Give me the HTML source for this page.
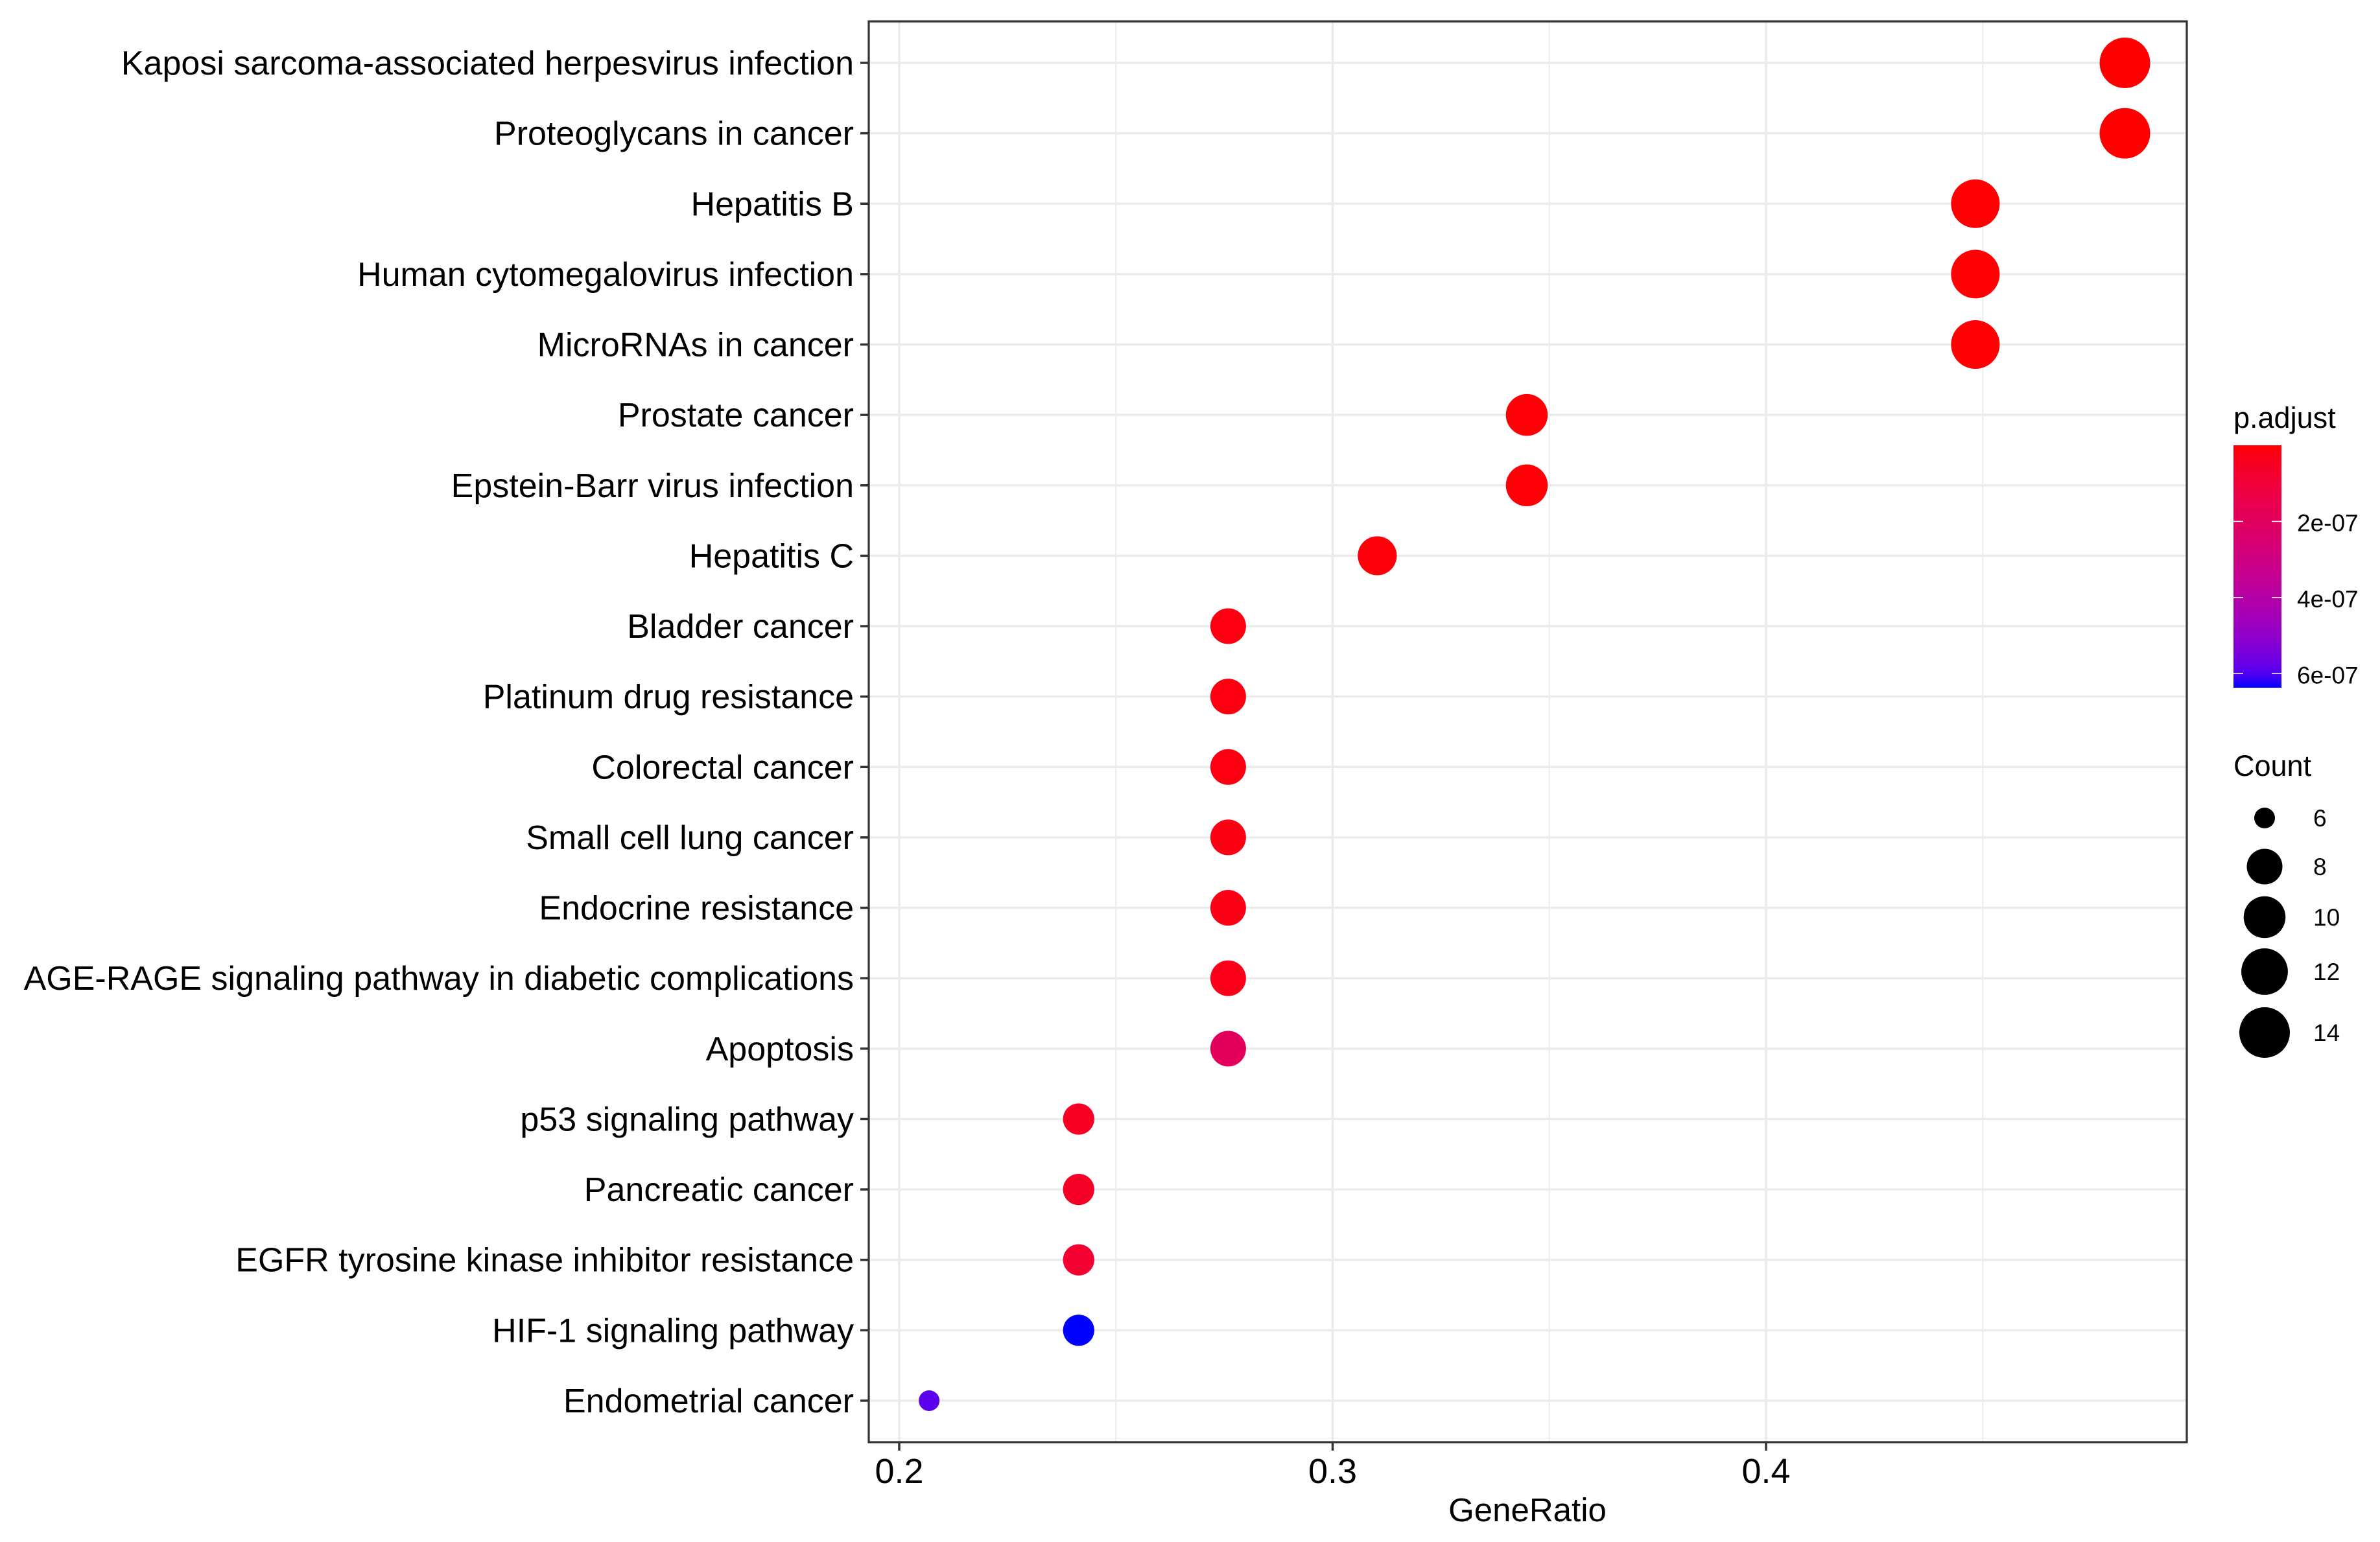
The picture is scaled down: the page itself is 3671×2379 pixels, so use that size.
<!DOCTYPE html>
<html><head><meta charset="utf-8"><title>KEGG enrichment dot plot</title>
<style>
html,body{margin:0;padding:0;background:#fff;}
svg{display:block;font-family:"Liberation Sans",Arial,sans-serif;}
</style></head>
<body>
<svg id="chart" width="3671" height="2379" viewBox="0 0 3671 2379" xmlns="http://www.w3.org/2000/svg">
<defs>
<linearGradient id="cbar" x1="0" y1="0" x2="0" y2="1">
</linearGradient>
</defs>
<g id="grid"></g>
<g id="points"></g>
<rect x="1340" y="33" width="2033" height="2192" fill="none" stroke="#333" stroke-width="3.2"/>
<g id="yaxis"></g>
<g id="xaxis"></g>
<text x="2356" y="2347" font-size="51" text-anchor="middle" fill="#000">GeneRatio</text>
<g id="legend-color">
<text x="3445" y="660" font-size="45" fill="#000">p.adjust</text>
<rect x="3445" y="687" width="74" height="374" fill="url(#cbar)"/>
</g>
<g id="legend-size">
<text x="3445" y="1197" font-size="45" fill="#000">Count</text>
</g>
</svg>
<script>
const categories = ["Kaposi sarcoma-associated herpesvirus infection","Proteoglycans in cancer","Hepatitis B","Human cytomegalovirus infection","MicroRNAs in cancer","Prostate cancer","Epstein-Barr virus infection","Hepatitis C","Bladder cancer","Platinum drug resistance","Colorectal cancer","Small cell lung cancer","Endocrine resistance","AGE-RAGE signaling pathway in diabetic complications","Apoptosis","p53 signaling pathway","Pancreatic cancer","EGFR tyrosine kinase inhibitor resistance","HIF-1 signaling pathway","Endometrial cancer"];
const geneRatio = [0.4828,0.4828,0.4483,0.4483,0.4483,0.3448,0.3448,0.3103,0.2759,0.2759,0.2759,0.2759,0.2759,0.2759,0.2759,0.2414,0.2414,0.2414,0.2414,0.2069];
const counts = [14,14,13,13,13,10,10,9,8,8,8,8,8,8,8,7,7,7,7,6];
const pAdjust = [1e-9,1e-9,3e-9,3e-9,3e-9,5e-9,6e-9,1e-8,2e-8,2e-8,2e-8,2.2e-8,2.5e-8,3e-8,1.9e-7,5e-8,6e-8,8e-8,6.37e-7,5.9e-7];
const xTicks = [0.2,0.3,0.4];
const xTickLabels = ["0.2","0.3","0.4"];
const xMinor = [0.25,0.35,0.45];
const pTicks = [2e-7,4e-7,6e-7];
const pTickLabels = ["2e-07","4e-07","6e-07"];
const countBreaks = [6,8,10,12,14];

const NS="http://www.w3.org/2000/svg";
function mk(tag,attrs,parent){const e=document.createElementNS(NS,tag);for(const k in attrs)e.setAttribute(k,attrs[k]);parent.appendChild(e);return e;}
const X0=1340,X1=3373,Y0=33,Y1=2225;
function xs(v){return 1387+(v-0.2)*6685;}
function ys(i){return 97+i*108.63;}
const pMin=0, pMax=6.37e-7;
const cMin=6, cMax=14, rMin=16, rMax=39;
function rs(c){return rMin+(rMax-rMin)*Math.sqrt((c-cMin)/(cMax-cMin));}
function s2l(c){c/=255;return c<=0.04045?c/12.92:Math.pow((c+0.055)/1.055,2.4);}
function l2s(c){c=c<=0.0031308?12.92*c:1.055*Math.pow(c,1/2.4)-0.055;return Math.max(0,Math.min(255,Math.round(c*255)));}
function toLab(r,g,b){r=s2l(r);g=s2l(g);b=s2l(b);
 let x=(0.4124*r+0.3576*g+0.1805*b)/0.95047,y=(0.2126*r+0.7152*g+0.0722*b),z=(0.0193*r+0.1192*g+0.9505*b)/1.08883;
 const f=t=>t>0.008856?Math.cbrt(t):7.787*t+16/116;
 return [116*f(y)-16,500*(f(x)-f(y)),200*(f(y)-f(z))];}
function fromLab(L,a,bb){let fy=(L+16)/116,fx=fy+a/500,fz=fy-bb/200;
 const fi=t=>t*t*t>0.008856?t*t*t:(t-16/116)/7.787;
 let x=fi(fx)*0.95047,y=fi(fy),z=fi(fz)*1.08883;
 let r=3.2406*x-1.5372*y-0.4986*z,g=-0.9689*x+1.8758*y+0.0415*z,b=0.0557*x-0.2040*y+1.0570*z;
 return "rgb("+l2s(r)+","+l2s(g)+","+l2s(b)+")";}
const LR=toLab(255,0,0),LB=toLab(0,0,255);
function colAt(t){return fromLab(LR[0]+(LB[0]-LR[0])*t,LR[1]+(LB[1]-LR[1])*t,LR[2]+(LB[2]-LR[2])*t);}
function cs(p){return colAt(Math.max(0,Math.min(1,(p-pMin)/(pMax-pMin))));}

const grid=document.getElementById('grid');
xMinor.forEach(v=>{const l=mk('line',{x1:xs(v),x2:xs(v),y1:Y0,y2:Y1,stroke:'#ebebeb','stroke-width':1.8},grid);

});
xTicks.forEach(v=>{const l=mk('line',{x1:xs(v),x2:xs(v),y1:Y0,y2:Y1,stroke:'#ebebeb','stroke-width':3.5},grid);

});
categories.forEach((c,i)=>{const l=mk('line',{x1:X0,x2:X1,y1:ys(i),y2:ys(i),stroke:'#ebebeb','stroke-width':3.5},grid);

});

const pts=document.getElementById('points');
categories.forEach((c,i)=>{const e=mk('circle',{cx:xs(geneRatio[i]),cy:ys(i),r:rs(counts[i]),fill:cs(pAdjust[i])},pts);

});

const ya=document.getElementById('yaxis');
categories.forEach((c,i)=>{const t=mk('line',{x1:1327,x2:X0,y1:ys(i),y2:ys(i),stroke:'#333','stroke-width':3.5},ya);


const tx=mk('text',{x:1317,y:ys(i)+18,'font-size':52,'text-anchor':'end',fill:'#000'},ya);
tx.textContent=c;

});

const xa=document.getElementById('xaxis');
xTicks.forEach((v,i)=>{const t=mk('line',{x1:xs(v),x2:xs(v),y1:Y1,y2:Y1+13,stroke:'#333','stroke-width':3.5},xa);


const tx=mk('text',{x:xs(v),y:2288,'font-size':54,'text-anchor':'middle',fill:'#000'},xa);
tx.textContent=xTickLabels[i];

});

const grad=document.getElementById('cbar');
for(let k=0;k<=20;k++){mk('stop',{offset:(k/20),'stop-color':colAt(k/20)},grad);}
const lc=document.getElementById('legend-color');
const cbY=v=>687+(v-pMin)/(pMax-pMin)*374;
pTicks.forEach((v,i)=>{const y=cbY(v);
const a=mk('line',{x1:3445,x2:3460,y1:y,y2:y,stroke:'#fff','stroke-width':1.5},lc);


const b=mk('line',{x1:3504,x2:3519,y1:y,y2:y,stroke:'#fff','stroke-width':1.5},lc);


const tx=mk('text',{x:3543,y:y+15,'font-size':37,fill:'#000'},lc);
tx.textContent=pTickLabels[i];

});

const ls=document.getElementById('legend-size');
const legY=[1262,1337,1415,1499,1593];
countBreaks.forEach((c,i)=>{const e=mk('circle',{cx:3493,cy:legY[i],r:rs(c),fill:'#000'},ls);


const tx=mk('text',{x:3568,y:legY[i]+13,'font-size':37,fill:'#000'},ls);
tx.textContent=String(c);

});
</script>
</body></html>
